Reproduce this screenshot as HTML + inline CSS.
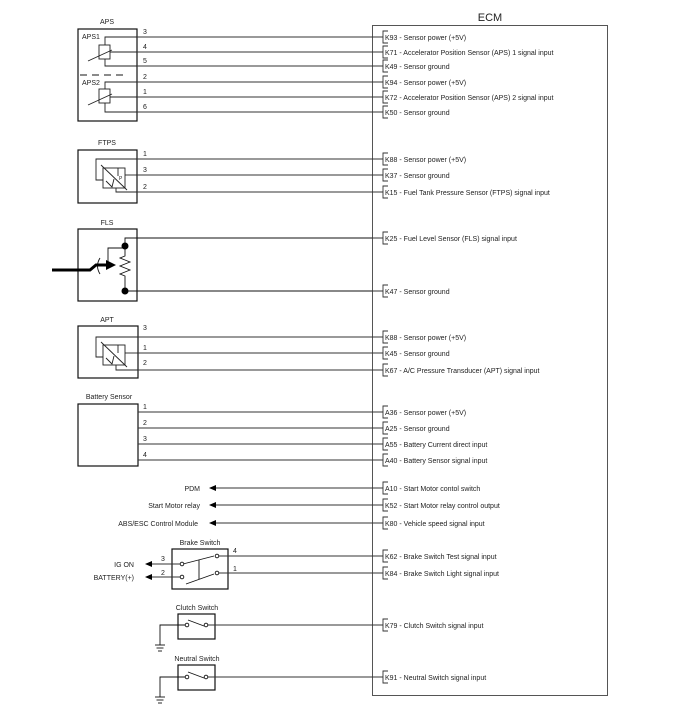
<!DOCTYPE html>
<html><head><meta charset="utf-8"><style>
html,body{margin:0;padding:0;background:#fff;}
svg{display:block;font-family:"Liberation Sans",sans-serif;}
text{font-size:7px;fill:#222;}
</style></head><body>
<svg width="700" height="713" viewBox="0 0 700 713" xmlns="http://www.w3.org/2000/svg">
<defs>
<marker id="ah" markerWidth="8" markerHeight="8" refX="1" refY="3" orient="auto" markerUnits="userSpaceOnUse"><path d="M7,0 L0,3 L7,6 Z" fill="#000"/></marker>
</defs>
<g stroke="#333" fill="none" stroke-width="1">
<rect x="372.5" y="25.5" width="235" height="670" stroke="#555"/>
</g>
<text x="490" y="21" style="font-size:11px" text-anchor="middle">ECM</text>

<g stroke="#111" fill="none" stroke-width="1.2">
<rect x="78" y="29" width="59" height="92"/>
<rect x="78" y="150" width="59" height="53"/>
<rect x="78" y="229" width="59" height="72"/>
<rect x="78" y="326" width="60" height="52"/>
<rect x="78" y="404" width="60" height="62"/>
<rect x="172" y="549" width="56" height="40"/>
<rect x="178" y="614" width="37" height="25"/>
<rect x="178" y="665" width="37" height="25"/>
</g>
<g text-anchor="middle">
<text x="107" y="24">APS</text>
<text x="107" y="145">FTPS</text>
<text x="107" y="225">FLS</text>
<text x="107" y="322">APT</text>
<text x="109" y="399">Battery Sensor</text>
<text x="200" y="545">Brake Switch</text>
<text x="197" y="610">Clutch Switch</text>
<text x="197" y="661">Neutral Switch</text>
</g>
<text x="82" y="39">APS1</text>
<text x="82" y="85">APS2</text>
<line x1="80" y1="75" x2="128" y2="75" stroke="#444" stroke-width="1.3" stroke-dasharray="7,5"/>

<g stroke="#222" fill="none" stroke-width="0.9">
<path d="M137,37 H105 V45"/><rect x="99" y="45" width="11" height="14"/><path d="M110,52 H137"/><path d="M105,59 V66 H137"/>
<path d="M88,61 L112,50"/>
<path d="M137,82 H105 V89"/><rect x="99" y="89" width="11" height="14"/><path d="M110,97 H137"/><path d="M105,103 V112 H137"/>
<path d="M88,105 L112,94"/>
</g>
<g stroke="#222" fill="none" stroke-width="0.9">
<path d="M137,159 H96 V180 H103"/><rect x="103" y="168" width="22" height="20"/><path d="M125,175 H137"/><path d="M116,188 V192 H137"/>
<path d="M101,165 L127,190"/><path d="M106,181 L112,187 L114,179"/><path d="M118,168 V176"/>
</g>
<text x="119" y="180" style="font-size:5px">P</text>
<g stroke="#222" fill="none" stroke-width="0.9">
<path d="M138,337 H96 V357 H103"/><rect x="103" y="345" width="22" height="20"/><path d="M125,353 H138"/><path d="M116,365 V370 H138"/>
<path d="M101,342 L127,367"/><path d="M106,358 L112,364 L114,356"/><path d="M118,345 V353"/>
</g>
<g stroke="#111" fill="none" stroke-width="0.9">
<path d="M125,246 V238 H372"/><path d="M125,291 H372"/>
<path d="M125,246 V256 L120,258 L130,262 L120,266 L130,270 L120,274 L125,276 V291"/>
<path d="M108,265 V248 H125"/>
<path d="M100,258 Q95,266 100,274"/>
</g>
<path d="M52,270 H90 L96,265 H110" stroke="#000" stroke-width="3" fill="none"/>
<path d="M106,260 L116,265 L106,270 Z" fill="#000"/>
<circle cx="125" cy="246" r="3.5" fill="#000"/><circle cx="125" cy="291" r="3.5" fill="#000"/>

<g stroke="#333" stroke-width="1">
<line x1="137" y1="37" x2="383" y2="37"/><line x1="137" y1="52" x2="383" y2="52"/><line x1="137" y1="66" x2="383" y2="66"/>
<line x1="137" y1="82" x2="383" y2="82"/><line x1="137" y1="97" x2="383" y2="97"/><line x1="137" y1="112" x2="383" y2="112"/>
<line x1="137" y1="159" x2="383" y2="159"/><line x1="137" y1="175" x2="383" y2="175"/><line x1="137" y1="192" x2="383" y2="192"/>
<line x1="372" y1="238" x2="383" y2="238"/><line x1="372" y1="291" x2="383" y2="291"/>
<line x1="138" y1="337" x2="383" y2="337"/><line x1="138" y1="353" x2="383" y2="353"/><line x1="138" y1="370" x2="383" y2="370"/>
<line x1="138" y1="412" x2="383" y2="412"/><line x1="138" y1="428" x2="383" y2="428"/><line x1="138" y1="444" x2="383" y2="444"/><line x1="138" y1="460" x2="383" y2="460"/>
<line x1="210" y1="488" x2="383" y2="488" marker-start="url(#ah)"/>
<line x1="210" y1="505" x2="383" y2="505" marker-start="url(#ah)"/>
<line x1="210" y1="523" x2="383" y2="523" marker-start="url(#ah)"/>
<line x1="219" y1="556" x2="383" y2="556"/><line x1="219" y1="573" x2="383" y2="573"/>
<line x1="208" y1="625" x2="383" y2="625"/><line x1="208" y1="677" x2="383" y2="677"/>
<line x1="146" y1="564" x2="180" y2="564" marker-start="url(#ah)"/>
<line x1="146" y1="577" x2="180" y2="577" marker-start="url(#ah)"/>
</g>
<g>
<text x="143" y="34">3</text><text x="143" y="49">4</text><text x="143" y="63">5</text>
<text x="143" y="79">2</text><text x="143" y="94">1</text><text x="143" y="109">6</text>
<text x="143" y="156">1</text><text x="143" y="172">3</text><text x="143" y="189">2</text>
<text x="143" y="330">3</text><text x="143" y="350">1</text><text x="143" y="365">2</text>
<text x="143" y="409">1</text><text x="143" y="425">2</text><text x="143" y="441">3</text><text x="143" y="457">4</text>
<text x="233" y="553">4</text><text x="233" y="571">1</text>
<text x="161" y="561">3</text><text x="161" y="575">2</text>
</g>
<g text-anchor="end">
<text x="200" y="491">PDM</text>
<text x="200" y="508">Start Motor relay</text>
<text x="198" y="526">ABS/ESC Control Module</text>
<text x="134" y="567">IG ON</text>
<text x="134" y="580">BATTERY(+)</text>
</g>
<g stroke="#111" fill="#fff" stroke-width="0.9">
<line x1="183" y1="564" x2="214" y2="556"/>
<line x1="186" y1="584" x2="214" y2="574"/>
<line x1="199" y1="560" x2="199" y2="579"/>
<circle cx="182" cy="564" r="1.8"/><circle cx="182" cy="577" r="1.8"/>
<circle cx="217" cy="556" r="1.8"/><circle cx="217" cy="573" r="1.8"/>
<path d="M185,625 H160 V645" fill="none"/><line x1="155" y1="645" x2="165" y2="645"/><line x1="156.5" y1="648" x2="163.5" y2="648"/><line x1="158" y1="651" x2="162" y2="651"/>
<line x1="188" y1="620" x2="204" y2="626"/>
<circle cx="187" cy="625" r="1.8"/><circle cx="206" cy="625" r="1.8"/>
<path d="M185,677 H160 V697" fill="none"/><line x1="155" y1="697" x2="165" y2="697"/><line x1="156.5" y1="700" x2="163.5" y2="700"/><line x1="158" y1="703" x2="162" y2="703"/>
<line x1="188" y1="672" x2="204" y2="678"/>
<circle cx="187" cy="677" r="1.8"/><circle cx="206" cy="677" r="1.8"/>
</g>

<g stroke="#333" fill="none" stroke-width="0.9">
<path d="M388,31 H383 V43 H388"/><path d="M388,46 H383 V58 H388"/><path d="M388,60 H383 V72 H388"/>
<path d="M388,76 H383 V88 H388"/><path d="M388,91 H383 V103 H388"/><path d="M388,106 H383 V118 H388"/>
<path d="M388,153 H383 V165 H388"/><path d="M388,169 H383 V181 H388"/><path d="M388,186 H383 V198 H388"/>
<path d="M388,232 H383 V244 H388"/><path d="M388,285 H383 V297 H388"/>
<path d="M388,331 H383 V343 H388"/><path d="M388,347 H383 V359 H388"/><path d="M388,364 H383 V376 H388"/>
<path d="M388,406 H383 V418 H388"/><path d="M388,422 H383 V434 H388"/><path d="M388,438 H383 V450 H388"/><path d="M388,454 H383 V466 H388"/>
<path d="M388,482 H383 V494 H388"/><path d="M388,499 H383 V511 H388"/><path d="M388,517 H383 V529 H388"/>
<path d="M388,550 H383 V562 H388"/><path d="M388,567 H383 V579 H388"/>
<path d="M388,619 H383 V631 H388"/><path d="M388,671 H383 V683 H388"/>
</g>
<g>
<text x="385" y="40">K93 - Sensor power (+5V)</text>
<text x="385" y="55">K71 - Accelerator Position Sensor (APS) 1 signal input</text>
<text x="385" y="69">K49 - Sensor ground</text>
<text x="385" y="85">K94 - Sensor power (+5V)</text>
<text x="385" y="100">K72 - Accelerator Position Sensor (APS) 2 signal input</text>
<text x="385" y="115">K50 - Sensor ground</text>
<text x="385" y="162">K88 - Sensor power (+5V)</text>
<text x="385" y="178">K37 - Sensor ground</text>
<text x="385" y="195">K15 - Fuel Tank Pressure Sensor (FTPS) signal input</text>
<text x="385" y="241">K25 - Fuel Level Sensor (FLS) signal input</text>
<text x="385" y="294">K47 - Sensor ground</text>
<text x="385" y="340">K88 - Sensor power (+5V)</text>
<text x="385" y="356">K45 - Sensor ground</text>
<text x="385" y="373">K67 - A/C Pressure Transducer (APT) signal input</text>
<text x="385" y="415">A36 - Sensor power (+5V)</text>
<text x="385" y="431">A25 - Sensor ground</text>
<text x="385" y="447">A55 - Battery Current direct input</text>
<text x="385" y="463">A40 - Battery Sensor signal input</text>
<text x="385" y="491">A10 - Start Motor contol switch</text>
<text x="385" y="508">K52 - Start Motor relay control output</text>
<text x="385" y="526">K80 - Vehicle speed signal input</text>
<text x="385" y="559">K62 - Brake Switch Test signal input</text>
<text x="385" y="576">K84 - Brake Switch Light signal input</text>
<text x="385" y="628">K79 - Clutch Switch signal input</text>
<text x="385" y="680">K91 - Neutral Switch signal input</text>
</g>
</svg>
</body></html>
